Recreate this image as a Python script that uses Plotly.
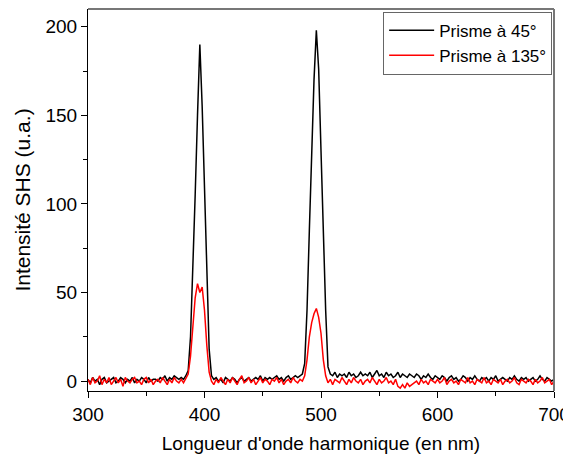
import plotly.graph_objects as go

# longueur d'onde, pas de 2 nm de 300 a 700
wavelength = list(range(300, 701, 2))

prisme_45 = [
    1, -1, 2, 0, 1, -2, 1, 2, -1, 0,
    1, 2, -1, 0, 2, 1, -1, 1, 0, 2,
    -1, 1, 0, 2, 1, -1, 2, 0, 1, 1,
    0, 2, 1, 3, 0, 2, 1, 3, 2, 1,
    2, 1, 3,
    6, 25, 62, 105, 150, 190, 155, 110, 62, 18, 3,
    1, 2, 0, 1, -1, 2,
    1, 0, 2, 1, -1, 1, 2, 0, 1, 2,
    0, 1, 2, 1, 3, 0, 2, 1, 2, 1,
    2, 3, 1, 2, 0, 2, 3, 1, 2, 3,
    2, 3, 4,
    10, 40, 85, 130, 170, 198, 176, 130, 82, 40, 8,
    4,
    3, 5, 2, 4, 3,
    4, 2, 5, 3, 4, 2, 3, 5, 3, 4,
    3, 5, 2, 4, 6, 3, 4, 2, 5, 3,
    4, 2, 3, 5, 2, 4, 3, 2, 4, 3,
    2, 4, 3, 1, 3, 2, 4, 2, 1, 3,
    2, 1, 3, 2, 0, 2, 3, 1, 2, 0,
    1, 3, 2, 0, 2, 1, 3, 1, 0, 2,
    1, 2, 0, 2, 1, 3, 0, 1, 2, 1,
    0, 2, 1, 3, 1, 0, 2, 1, 2, 0,
    1, 2, 0, 1, 3, 1, 0, 2, 1, 0,
    1,
]

prisme_135 = [
    1, -2, 2, -1, 0, 3, -2, 1, -1, 2,
    -2, 0, 2, -1, 1, -3, 2, 0, -1, 1,
    2, -1, 0, -2, 1, 2, -1, 1, -2, 0,
    1, -1, 2, 0, -2, 1, -1, 2, 0, -1,
    1, -1, 2,
    4, 14, 32, 47, 55, 50, 53, 40, 20, 5, 0,
    -2, 1, -1, 2, 0, -2,
    1, -1, 2, 0, -2, 1, 3, -1, 0, 2,
    -1, 1, -2, 0, 2, -1, 1, 0, -2, 1,
    0, 2, -1, 1, -2, 0, 1, -1, 2, 0,
    -1, 1, 0,
    3, 12, 25, 33, 38, 41, 36, 27, 12, 3, -1,
    1,
    -2, 1, 0, -1, 2,
    0, -2, 1, -1, 2, 0, -1, 1, -2, 0,
    1, -1, 2, 0, -2, 1, -1, 0, 2, -1,
    0, -2, 1, -3, -4, -2, -4, -1, -3, -2,
    -1, 0, -2, 1, -1, 0, -2, 1, 0, -1,
    1, -1, 0, 2, -2, 0, 1, -1, 0, -2,
    1, 0, -1, 2, -1, 0, -2, 1, 0, -1,
    2, -1, 0, -2, 1, 0, -1, 1, -2, 0,
    1, -1, 0, 2, -1, -2, 1, 0, -1, 1,
    0, -2, 1, -1, 0, 2, -1, 0, 1, -2,
    0,
]

fig = go.Figure()
fig.add_trace(go.Scatter(x=wavelength, y=prisme_45, mode="lines",
                         name="Prisme à 45°", line=dict(color="black", width=1.5)))
fig.add_trace(go.Scatter(x=wavelength, y=prisme_135, mode="lines",
                         name="Prisme à 135°", line=dict(color="red", width=1.5)))

# la page ajoute une marge de 8 px : figure de 563x456
fig.update_layout(
    width=563, height=456,
    margin=dict(l=80, r=17, t=1, b=73, autoexpand=False),
    plot_bgcolor="white", paper_bgcolor="white",
    font=dict(family="Liberation Sans, Arial", color="black"),
    legend=dict(x=0.996, y=0.993, xanchor="right", yanchor="top",
                bordercolor="#666", borderwidth=1, font=dict(size=17),
                bgcolor="white", tracegroupgap=0, itemwidth=45),
    shapes=[
        dict(type="line", xref="paper", yref="paper", x0=0, x1=1, y0=1, y1=1,
             line=dict(color="#777", width=2)),
        dict(type="line", xref="paper", yref="paper", x0=1, x1=1, y0=0, y1=1,
             line=dict(color="#777", width=2)),
    ],
)

fig.update_xaxes(
    range=[300, 700], tickvals=[300, 400, 500, 600, 700],
    showgrid=False, zeroline=False, automargin=False,
    showline=True, linecolor="black", linewidth=1,
    ticks="outside", ticklen=6, tickcolor="black", tickfont=dict(size=19),
    ticklabeloverflow="allow",
    minor=dict(ticks="outside", tickvals=[350, 450, 550, 650], ticklen=4, tickcolor="black"),
    title=dict(text="Longueur d'onde harmonique (en nm)", font=dict(size=19), standoff=12),
)
fig.update_yaxes(
    range=[-5.6, 210], dtick=50, showgrid=False, zeroline=False, automargin=False,
    showline=True, linecolor="black", linewidth=1,
    ticks="outside", ticklen=6, tickcolor="black", tickfont=dict(size=19),
    minor=dict(ticks="outside", dtick=25, ticklen=4, tickcolor="black"),
    title=dict(text="Intensité SHS (u.a.)", font=dict(size=21), standoff=9),
)

fig.write_html("out.html")
